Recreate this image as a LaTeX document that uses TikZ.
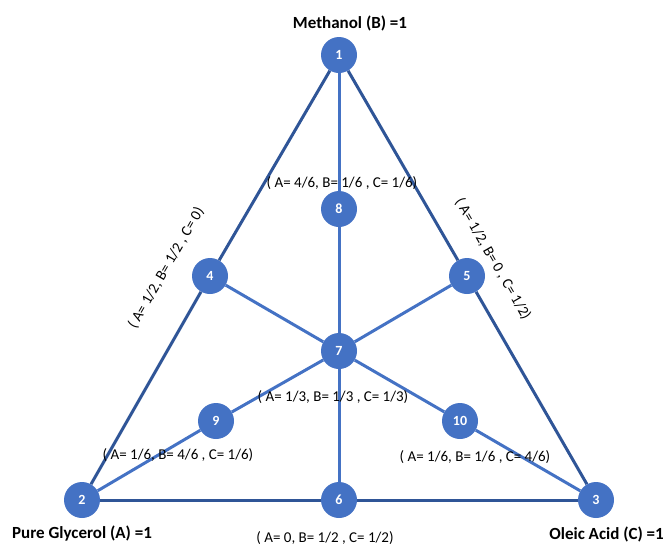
\documentclass[tikz,border=0pt]{standalone}
\usepackage{fontspec}
\setmainfont{Carlito}
\begin{document}
\begin{tikzpicture}[x=1pt,y=-1pt,
  pt/.style={circle,fill=nodeblue,minimum size=36pt,inner sep=0pt,text=white,font=\fontsize{14}{16}\selectfont\bfseries},
  outer/.style={draw=edgeblue,line width=3pt},
  inner/.style={draw=nodeblue,line width=3pt},
  lab/.style={font=\fontsize{15}{17}\selectfont,inner sep=0pt},
  ttl/.style={font=\fontsize{17}{19}\selectfont\bfseries,inner sep=0pt}]
\definecolor{nodeblue}{HTML}{4472C4}
\definecolor{edgeblue}{HTML}{2F5597}
\useasboundingbox (0,0) rectangle (664,544);
\node[pt] (n1) at (339,55) {1};
\node[pt] (n2) at (82,500) {2};
\node[pt] (n3) at (596,500) {3};
\node[pt] (n4) at (210,276) {4};
\node[pt] (n5) at (467,276) {5};
\node[pt] (n6) at (339,500) {6};
\node[pt] (n7) at (339,351) {7};
\node[pt] (n8) at (339,209) {8};
\node[pt] (n9) at (216,421) {9};
\node[pt] (n10) at (460,421) {10};
% connectors
\draw[outer] (n1) -- (n4) -- (n2);
\draw[outer] (n2) -- (n6) -- (n3);
\draw[outer] (n3) -- (n5) -- (n1);
\draw[inner] (n1) -- (n8) -- (n7) -- (n6);
\draw[inner] (n2) -- (n9) -- (n7) -- (n5);
\draw[inner] (n3) -- (n10) -- (n7) -- (n4);
\node[ttl] (t1) at (350,23) {Methanol (B) =1};
\node[ttl,anchor=west] (t2) at (12,534) {Pure Glycerol (A) =1};
\node[ttl,anchor=east] (t3) at (664,534) {Oleic Acid (C) =1};
\node[lab] (l8) at (342,183) {( A= 4/6, B= 1/6 , C= 1/6)};
\node[lab] (l7) at (333,397) {( A= 1/3, B= 1/3 , C= 1/3)};
\node[lab] (l9) at (178,455) {( A= 1/6, B= 4/6 , C= 1/6)};
\node[lab] (l10) at (475,457) {( A= 1/6, B= 1/6 , C= 4/6)};
\node[lab] (l6) at (325,538) {( A= 0, B= 1/2 , C= 1/2)};
\node[lab,rotate=60] (l4) at (166,268) {( A= 1/2, B= 1/2 , C= 0)};
\node[lab,rotate=-60] (l5) at (493,259) {( A= 1/2, B= 0 , C= 1/2)};
\end{tikzpicture}
\end{document}
